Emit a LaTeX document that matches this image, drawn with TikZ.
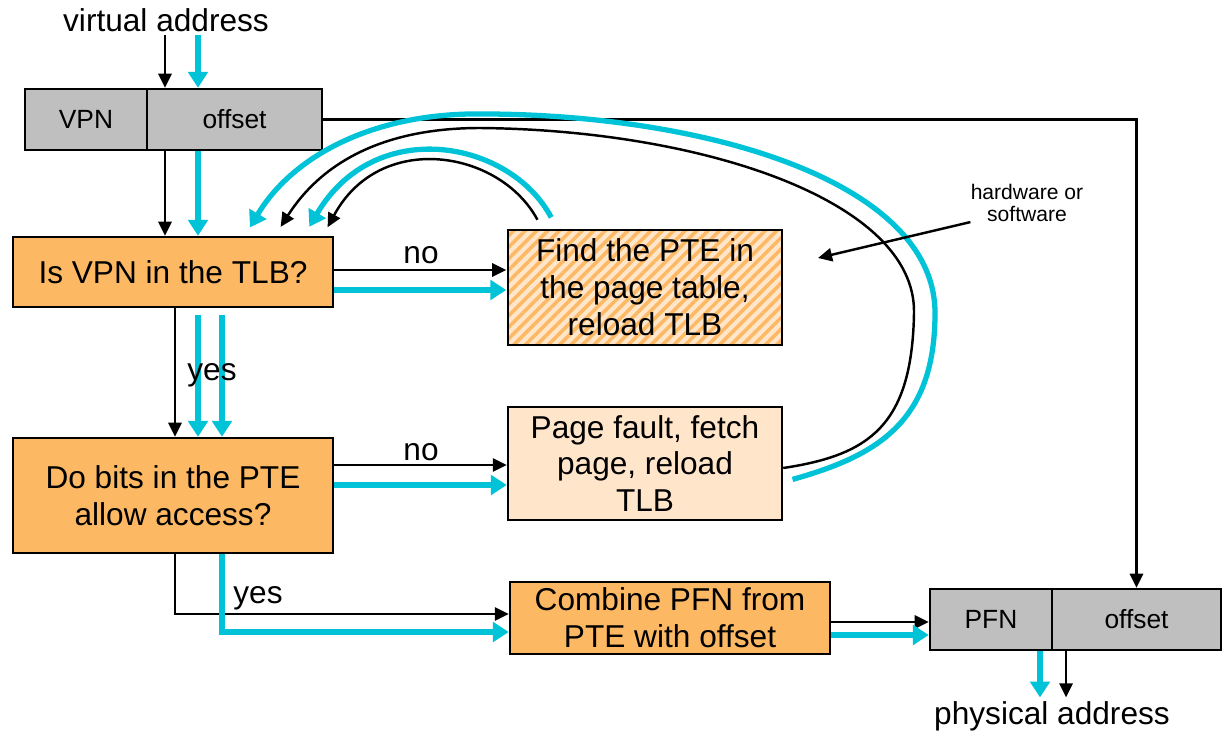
\documentclass[tikz,border=0pt]{standalone}
\usepackage{fontspec}
\setmainfont{Liberation Sans}
\usetikzlibrary{arrows.meta,patterns.meta}
\definecolor{fieldgray}{HTML}{BFBFBF}
\definecolor{steporange}{HTML}{FDB863}
\definecolor{steppeach}{HTML}{FFE6CB}
\definecolor{flowcyan}{HTML}{00C3D8}
\tikzset{
  boxbase/.style={draw,line width=1.4pt,inner sep=0pt,align=center,font=\fontsize{18}{21}\selectfont},
  field/.style={boxbase,fill=fieldgray,minimum height=1.22cm,font=\fontsize{15}{18}\selectfont},
  stepbox/.style={boxbase,fill=steporange},
  faultbox/.style={boxbase,fill=steppeach},
  hatchbox/.style={boxbase,preaction={fill=steppeach},pattern={Lines[angle=45,distance=4.6pt,line width=2pt]},pattern color=steporange},
  blk/.style={line width=1.4pt,-{Triangle[length=8pt,width=7.5pt]}},
  cyn/.style={line width=3pt,flowcyan,-{Triangle[length=9pt,width=11pt]}},
  lbl/.style={inner sep=2pt,font=\fontsize{18}{21}\selectfont},
}
\begin{document}
\begin{tikzpicture}[x=0.02cm,y=-0.02cm]
                \useasboundingbox (0,0) rectangle (1222,733);
                \node[lbl] (va) at (166,20) {virtual address};
                \node[field,minimum width=2.44cm] (vpn) at (86,119.5) {VPN};
                \node[field,minimum width=3.5cm] (voff) at (234.5,119.5) {offset};
                \node[stepbox,minimum width=6.4cm,minimum height=1.4cm] (tlb) at (173,272) {Is VPN in the TLB?};
                \node[hatchbox,minimum width=5.48cm,minimum height=2.3cm] (find) at (645,287.5) {Find the PTE in\\the page table,\\reload TLB};
                \node[stepbox,minimum width=6.4cm,minimum height=2.3cm] (bits) at (173,495.5) {Do bits in the PTE\\allow access?};
                \node[faultbox,minimum width=5.48cm,minimum height=2.26cm] (fault) at (645,463.5) {Page fault, fetch\\page, reload\\TLB};
                \node[stepbox,minimum width=6.4cm,minimum height=1.44cm] (combine) at (670,618) {Combine PFN from\\PTE with offset};
                \node[field,minimum width=2.44cm] (pfn) at (991,619.5) {PFN};
                \node[field,minimum width=3.38cm] (poff) at (1136.5,619.5) {offset};
                \node[lbl] (pa) at (1052,716) {physical address};
                \node[inner sep=0pt,align=center,font=\fontsize{12}{12.5}\selectfont] (hw) at (1027,203) {hardware or\\software};
                \coordinate (hwtip) at (818,258);

                \draw[blk] (va.south -| 165,0) -- (voff.north -| 165,0);
                \draw[cyn] (va.south -| 198,0) -- (voff.north -| 198,0);
                \draw[blk] (voff.south -| 165,0) -- (tlb.north -| 165,0);
                \draw[cyn] (voff.south -| 198,0) -- (tlb.north -| 198,0);
                \draw[blk] (voff.east) -| (poff.north);

                \draw[blk] (tlb.east |- 0,270) -- (find.west |- 0,270);
                \draw[cyn] (tlb.east |- 0,290) -- (find.west |- 0,290);
                \node[lbl] (no1) at (421,255) {no};
                \draw[blk] (tlb.south -| 175,0) -- (bits.north -| 175,0);
                \draw[cyn,shorten <=4pt] (tlb.south -| 198,0) -- (bits.north -| 198,0);
                \draw[cyn,shorten <=4pt] (tlb.south -| 222,0) -- (bits.north -| 222,0);
                \node[lbl] (yes1) at (212,375) {yes};

                \draw[blk] (bits.east |- 0,465) -- (fault.west |- 0,465);
                \draw[cyn] (bits.east |- 0,485) -- (fault.west |- 0,485);
                \node[lbl] (no2) at (421,452) {no};
                \draw[blk] (bits.south -| 175,0) |- (combine.west |- 0,614);
                \draw[cyn] (bits.south -| 222,0) |- (combine.west |- 0,632);
                \node[lbl] (yes2) at (258,598) {yes};

                \draw[blk] (combine.east |- 0,622) -- (pfn.west |- 0,622);
                \draw[cyn] (combine.east |- 0,635) -- (pfn.west |- 0,635);
                \draw[cyn] (pfn.south -| 1040,0) -- (pa.north -| 1040,0);
                \draw[blk] (poff.south -| 1066,0) -- (pa.north -| 1066,0);

                \draw[blk,shorten <=5.5pt,shorten >=5.5pt] (find.north -| 542,0) .. controls (500,150) and (380,130) .. (tlb.north -| 323,0);
                \draw[cyn,shorten <=7pt,shorten >=6pt] (find.north -| 557,0) .. controls (510,140) and (375,115) .. (tlb.north -| 304,0);
                \draw[blk,shorten >=6pt] (fault.east |- 0,468) .. controls (870,455) and (912,425) .. (914,313)
                    .. controls (916,200) and (700,130) .. (480,128) .. controls (380,128) and (320,165) .. (tlb.north -| 275,0);
                \draw[cyn,shorten <=5.5pt,shorten >=5.5pt] (fault.east |- 0,482) .. controls (880,455) and (935,420) .. (935,313)
                    .. controls (935,180) and (700,112) .. (470,114) .. controls (365,116) and (290,160) .. (tlb.north -| 245,0);

                \draw[blk] (hw.south west) -- (hwtip);
\end{tikzpicture}
\end{document}
